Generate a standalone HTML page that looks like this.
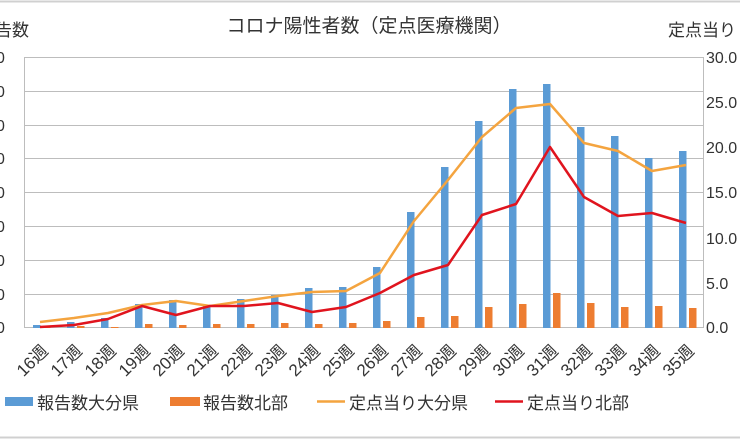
<!DOCTYPE html>
<html><head><meta charset="utf-8"><style>
html,body{margin:0;padding:0;background:#fff;}
svg{display:block;font-family:"Liberation Sans","Noto Sans CJK JP",sans-serif;}
</style></head><body>
<svg width="740" height="440" viewBox="0 0 740 440">
<rect width="740" height="440" fill="#fff"/>
<line x1="0" y1="1.5" x2="740" y2="1.5" stroke="#d0d0d0" stroke-width="2"/>
<line x1="0" y1="437.5" x2="740" y2="437.5" stroke="#d0d0d0" stroke-width="2"/>
<text x="369" y="32" font-size="19" text-anchor="middle" fill="#333">コロナ陽性者数（定点医療機関）</text>
<text x="-5" y="36" font-size="17" fill="#333">告数</text>
<text x="668" y="36" font-size="17" fill="#333">定点当り</text>
<g stroke="#bdbdbd" stroke-width="1">
<line x1="24" y1="57.5" x2="704" y2="57.5"/>
<line x1="24" y1="91.5" x2="704" y2="91.5"/>
<line x1="24" y1="125.5" x2="704" y2="125.5"/>
<line x1="24" y1="158.5" x2="704" y2="158.5"/>
<line x1="24" y1="192.5" x2="704" y2="192.5"/>
<line x1="24" y1="226.5" x2="704" y2="226.5"/>
<line x1="24" y1="260.5" x2="704" y2="260.5"/>
<line x1="24" y1="294.5" x2="704" y2="294.5"/>
<line x1="24" y1="327.5" x2="704" y2="327.5"/>
<line x1="24.5" y1="57" x2="24.5" y2="328"/>
<line x1="703.5" y1="57" x2="703.5" y2="328"/>
</g>
<g font-size="16" fill="#333">
<text x="-4" y="63">0</text><text x="-4" y="97">0</text><text x="-4" y="131">0</text><text x="-4" y="164">0</text><text x="-4" y="198">0</text><text x="-4" y="232">0</text><text x="-4" y="266">0</text><text x="-4" y="300">0</text><text x="-4" y="333">0</text>
<text x="706" y="63">30.0</text><text x="706" y="108">25.0</text><text x="706" y="153">20.0</text><text x="706" y="198">15.0</text><text x="706" y="244">10.0</text><text x="706" y="289">5.0</text><text x="706" y="333">0.0</text>
</g>
<g fill="#5b9bd5">
<rect x="33" y="325" width="7.5" height="3"/>
<rect x="67" y="322" width="7.5" height="6"/>
<rect x="101" y="318" width="7.5" height="10"/>
<rect x="135" y="304" width="7.5" height="24"/>
<rect x="169" y="300" width="7.5" height="28"/>
<rect x="203" y="305" width="7.5" height="23"/>
<rect x="237" y="299" width="7.5" height="29"/>
<rect x="271" y="295" width="7.5" height="33"/>
<rect x="305" y="288" width="7.5" height="40"/>
<rect x="339" y="287" width="7.5" height="41"/>
<rect x="373" y="267" width="7.5" height="61"/>
<rect x="407" y="212" width="7.5" height="116"/>
<rect x="441" y="167" width="7.5" height="161"/>
<rect x="475" y="121" width="7.5" height="207"/>
<rect x="509" y="89" width="7.5" height="239"/>
<rect x="543" y="84" width="7.5" height="244"/>
<rect x="577" y="127" width="7.5" height="201"/>
<rect x="611" y="136" width="7.5" height="192"/>
<rect x="645" y="158" width="7.5" height="170"/>
<rect x="679" y="151" width="7.5" height="177"/>
</g>
<g fill="#ed7d31">
<rect x="43" y="327" width="7.5" height="1"/>
<rect x="77" y="326" width="7.5" height="2"/>
<rect x="111" y="327" width="7.5" height="1"/>
<rect x="145" y="324" width="7.5" height="4"/>
<rect x="179" y="325" width="7.5" height="3"/>
<rect x="213" y="324" width="7.5" height="4"/>
<rect x="247" y="324" width="7.5" height="4"/>
<rect x="281" y="323" width="7.5" height="5"/>
<rect x="315" y="324" width="7.5" height="4"/>
<rect x="349" y="323" width="7.5" height="5"/>
<rect x="383" y="321" width="7.5" height="7"/>
<rect x="417" y="317" width="7.5" height="11"/>
<rect x="451" y="316" width="7.5" height="12"/>
<rect x="485" y="307" width="7.5" height="21"/>
<rect x="519" y="304" width="7.5" height="24"/>
<rect x="553" y="293" width="7.5" height="35"/>
<rect x="587" y="303" width="7.5" height="25"/>
<rect x="621" y="307" width="7.5" height="21"/>
<rect x="655" y="306" width="7.5" height="22"/>
<rect x="689" y="308" width="7.5" height="20"/>
</g>
<polyline fill="none" stroke="#f4a43f" stroke-width="2.5" stroke-linejoin="round" points="40,322 74,318 108,313 142,305 176,301 210,306 244,301 278,296 312,292 346,291 380,273 414,221 448,180 482,137 516,108 550,104 584,143 618,151 652,171 686,165"/>
<polyline fill="none" stroke="#e0141e" stroke-width="2.5" stroke-linejoin="round" points="40,327 74,325 108,319 142,306 176,315 210,306 244,306 278,303 312,312 346,307 380,293 414,275 448,265 482,215 516,204 550,147 584,197 618,216 652,213 686,223"/>
<g font-size="17" fill="#333" text-anchor="end">
<text transform="translate(49,352) rotate(-45)">16週</text>
<text transform="translate(83,352) rotate(-45)">17週</text>
<text transform="translate(117,352) rotate(-45)">18週</text>
<text transform="translate(151,352) rotate(-45)">19週</text>
<text transform="translate(185,352) rotate(-45)">20週</text>
<text transform="translate(219,352) rotate(-45)">21週</text>
<text transform="translate(253,352) rotate(-45)">22週</text>
<text transform="translate(287,352) rotate(-45)">23週</text>
<text transform="translate(321,352) rotate(-45)">24週</text>
<text transform="translate(355,352) rotate(-45)">25週</text>
<text transform="translate(389,352) rotate(-45)">26週</text>
<text transform="translate(423,352) rotate(-45)">27週</text>
<text transform="translate(457,352) rotate(-45)">28週</text>
<text transform="translate(491,352) rotate(-45)">29週</text>
<text transform="translate(525,352) rotate(-45)">30週</text>
<text transform="translate(559,352) rotate(-45)">31週</text>
<text transform="translate(593,352) rotate(-45)">32週</text>
<text transform="translate(627,352) rotate(-45)">33週</text>
<text transform="translate(661,352) rotate(-45)">34週</text>
<text transform="translate(695,352) rotate(-45)">35週</text>
</g>
<rect x="5" y="397" width="28" height="9" fill="#5b9bd5"/>
<text x="37" y="409" font-size="17" fill="#333">報告数大分県</text>
<rect x="170" y="397" width="30" height="9" fill="#ed7d31"/>
<text x="203" y="409" font-size="17" fill="#333">報告数北部</text>
<line x1="317" y1="401.5" x2="345" y2="401.5" stroke="#f4a43f" stroke-width="2.5"/>
<text x="349" y="409" font-size="17" fill="#333">定点当り大分県</text>
<line x1="495" y1="401.5" x2="523" y2="401.5" stroke="#e0141e" stroke-width="2.5"/>
<text x="527" y="409" font-size="17" fill="#333">定点当り北部</text>
</svg>
</body></html>
